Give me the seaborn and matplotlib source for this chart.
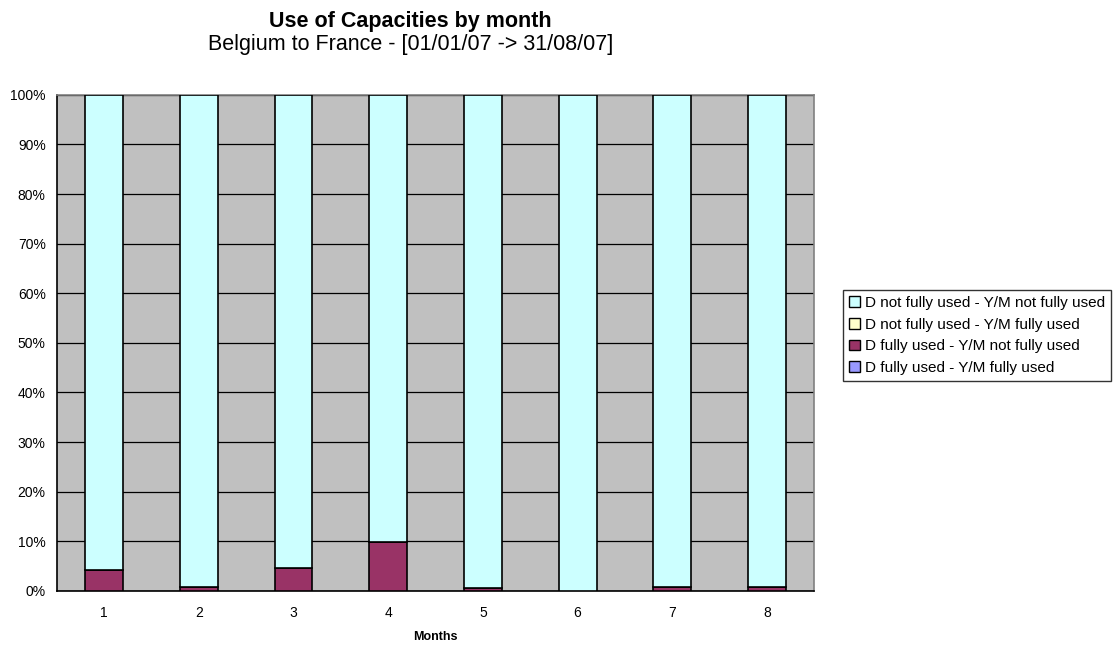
import matplotlib
matplotlib.use("Agg")
import matplotlib.pyplot as plt
from matplotlib.patches import Patch
from matplotlib.ticker import FixedLocator, PercentFormatter
import seaborn as sns
import pandas as pd
import numpy as np

# Monthly shares (%) of each capacity-use state
months = [1, 2, 3, 4, 5, 6, 7, 8]
d_full_ym_full = [0, 0, 0, 0, 0, 0, 0, 0]
d_full_ym_not = [4.2, 0.8, 4.6, 9.8, 0.5, 0.0, 0.7, 0.7]
d_not_ym_full = [0, 0, 0, 0, 0, 0, 0, 0]
d_not_ym_not = [95.8, 99.2, 95.4, 90.2, 99.5, 100.0, 99.3, 99.3]

series_names = [
    "D fully used - Y/M fully used",
    "D fully used - Y/M not fully used",
    "D not fully used - Y/M fully used",
    "D not fully used - Y/M not fully used",
]
series_values = [d_full_ym_full, d_full_ym_not, d_not_ym_full, d_not_ym_not]
series_colors = ["#9999FF", "#993366", "#FFFFCC", "#CCFFFF"]

sns.set_theme(style="white")
plt.rcParams["font.family"] = ["Liberation Sans", "DejaVu Sans"]
plt.rcParams["text.color"] = "black"
plt.rcParams["axes.labelcolor"] = "black"
plt.rcParams["xtick.color"] = "black"
plt.rcParams["ytick.color"] = "black"

fig = plt.figure(figsize=(11.14, 6.45), dpi=100)
ax = fig.add_axes([0.051, 0.084, 0.680, 0.769])
ax.set_facecolor("#C0C0C0")

df = pd.DataFrame({"month": [str(m) for m in months]})
bottom = np.zeros(len(months))
for name, vals, col in zip(series_names, series_values, series_colors):
    vals = np.asarray(vals, dtype=float)
    sns.barplot(x=df["month"], y=vals, bottom=bottom, color=col, width=0.4,
                edgecolor="black", linewidth=1.2, saturation=1, ax=ax,
                errorbar=None, zorder=3)
    bottom = bottom + vals

ax.set_xlim(-0.5, len(months) - 0.5)
ax.set_ylim(0, 100)
ax.yaxis.set_major_locator(FixedLocator(np.arange(0, 101, 10)))
ax.yaxis.set_major_formatter(PercentFormatter(decimals=0))
ax.grid(axis="y", color="black", linewidth=0.9, zorder=1)
ax.set_axisbelow(True)

# Category-boundary tick marks on the x axis, labels centred
ax.set_xticks(np.arange(len(months)))
ax.set_xticklabels([str(m) for m in months], fontsize=10)
ax.set_xticks(np.arange(-0.5, len(months)), minor=True)
ax.tick_params(axis="x", which="major", length=0, pad=11)
ax.tick_params(axis="x", which="minor", length=5, width=1, color="black", direction="out")
ax.tick_params(axis="y", length=5, width=1, color="black", direction="out", labelsize=10, pad=3)

for side in ("left", "bottom"):
    ax.spines[side].set_color("black")
    ax.spines[side].set_linewidth(1.2)
for side in ("top", "right"):
    ax.spines[side].set_color("#808080")
    ax.spines[side].set_linewidth(1.2)

ax.set_xlabel("Months", fontsize=9, fontweight="bold", labelpad=8)
ax.set_ylabel("")

fig.text(0.368, 0.958, "Use of Capacities by month", ha="center", va="baseline",
         fontsize=15.5, fontweight="bold")
fig.text(0.369, 0.922, "Belgium to France - [01/01/07 -> 31/08/07]", ha="center",
         va="baseline", fontsize=15.5)

handles = [Patch(facecolor=c, edgecolor="black", linewidth=1.0)
           for c in series_colors[::-1]]
leg = fig.legend(handles, series_names[::-1], loc="center left",
                 bbox_to_anchor=(0.757, 0.480), frameon=True, fancybox=False,
                 fontsize=11, handlelength=0.7, handleheight=0.7,
                 handletextpad=0.3, labelspacing=0.5, borderpad=0.4,
                 borderaxespad=0)
leg.get_frame().set_edgecolor("black")
leg.get_frame().set_linewidth(1.0)

fig.savefig("out.png", dpi=100)
